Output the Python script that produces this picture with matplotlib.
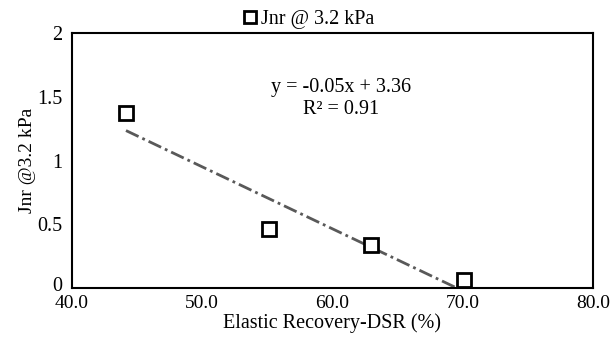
import numpy as np
import matplotlib.pyplot as plt
import matplotlib.transforms as mtransforms

# data
elastic_recovery = [44.15, 55.1, 62.96, 70.1]
jnr_32 = [1.37, 0.46, 0.34, 0.063]
x_ticks = [40.0, 50.0, 60.0, 70.0, 80.0]
y_ticks = [0, 0.5, 1, 1.5, 2]
equation = "y = -0.05x + 3.36"
r_squared = "R² = 0.91"

plt.rcParams['font.family'] = ['Liberation Serif', 'DejaVu Serif']

fig = plt.figure(figsize=(6.15, 3.43), dpi=100)
ax = fig.add_axes([0.117, 0.160, 0.847, 0.744])

# linear trendline through the points, clipped at zero
slope, intercept = np.polyfit(elastic_recovery, jnr_32, 1)
xs = np.linspace(min(elastic_recovery), max(elastic_recovery), 200)
ys = slope * xs + intercept
keep = ys >= 0
ax.plot(xs[keep], ys[keep], color='#595959', lw=2, linestyle=(0, (5, 1.5, 1, 1.5)))

ax.plot(elastic_recovery, jnr_32, linestyle='none', marker='s', markersize=9.5,
        markerfacecolor='white', markeredgecolor='black', markeredgewidth=2,
        label='Jnr @ 3.2 kPa')

ax.text(60.7, 1.575, equation, ha='center', va='center', fontsize=14.5)
ax.text(60.7, 1.40, r_squared, ha='center', va='center', fontsize=14.5)

ax.set_xlim(40, 80)
ax.set_ylim(0, 2)
ax.set_xticks(x_ticks)
ax.set_xticklabels([f"{t:.1f}" for t in x_ticks])
ax.set_yticks(y_ticks)
ax.set_yticklabels([f"{t:g}" for t in y_ticks])
ax.tick_params(axis='x', length=0, labelsize=14, pad=5)
ax.tick_params(axis='y', length=0, labelsize=14.5, pad=7)
for s in ax.spines.values():
    s.set_linewidth(1.5)
    s.set_color('black')

# nudge the "0" label up a little so it clears "40.0"
zero_lbl = ax.get_yticklabels()[0]
zero_lbl.set_transform(zero_lbl.get_transform() +
                       mtransforms.ScaledTranslation(0, 3 / 72, fig.dpi_scale_trans))

ax.set_xlabel('Elastic Recovery-DSR (%)', fontsize=14.5, labelpad=1)
ax.set_ylabel('Jnr @3.2 kPa', fontsize=14, labelpad=1)

ax.legend(loc='lower center', bbox_to_anchor=(0.451, 1.0), frameon=False,
          fontsize=14.5, handletextpad=0.05, borderaxespad=0.0, markerscale=0.85,
          handlelength=1.0, borderpad=0.2)

fig.savefig('out.png', dpi=100)
